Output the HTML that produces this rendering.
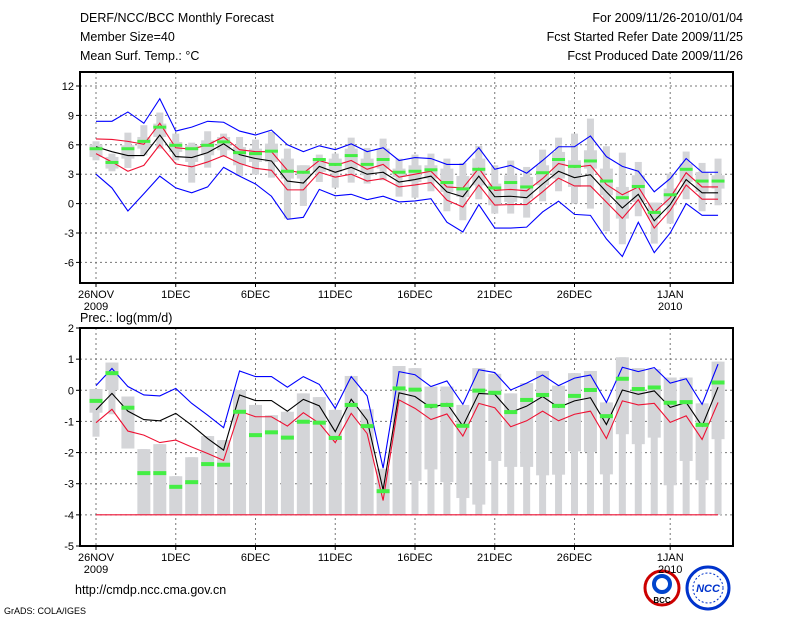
<!DOCTYPE html>
<html><head><meta charset="utf-8"><style>
body{margin:0;background:#fff;width:800px;height:618px;overflow:hidden;font-family:"Liberation Sans",sans-serif}
svg text{font-family:"Liberation Sans",sans-serif;fill:#000}
</style></head><body>
<svg id="c" width="800" height="618" xmlns="http://www.w3.org/2000/svg">
<g font-size="12.5">
<text x="80" y="22">DERF/NCC/BCC Monthly Forecast</text>
<text x="80" y="41">Member Size=40</text>
<text x="80" y="60">Mean Surf. Temp.: °C</text>
<text x="743" y="22" text-anchor="end">For 2009/11/26-2010/01/04</text>
<text x="743" y="41" text-anchor="end">Fcst Started Refer Date 2009/11/25</text>
<text x="743" y="60" text-anchor="end">Fcst Produced Date 2009/11/26</text>
</g>
<text x="80" y="322" font-size="12.5">Prec.: log(mm/d)</text>
<text x="75" y="594" font-size="12.5">http://cmdp.ncc.cma.gov.cn</text>
<text x="4" y="614" font-size="9">GrADS: COLA/IGES</text>
<g>
<circle cx="662" cy="588" r="17" fill="#fff" stroke="#c00" stroke-width="3"/>
<circle cx="662" cy="584" r="8" fill="none" stroke="#04c" stroke-width="4"/>
<text x="662" y="603" font-size="8" text-anchor="middle" font-weight="bold">BCC</text>
</g>
<g>
<circle cx="708" cy="588" r="21" fill="#fff" stroke="#03c" stroke-width="3"/>
<circle cx="708" cy="588" r="15" fill="none" stroke="#03c" stroke-width="1" stroke-dasharray="2 2"/>
<text x="708" y="592" font-size="11" text-anchor="middle" style="fill:#03c" font-style="italic" font-weight="bold">NCC</text>
</g>
</svg>
<script>
// ---- Temperature data (°C) ----
const tBlueHi=[8.4,8.4,9.35,8.2,10.7,7.4,7.8,8.4,8.3,7.4,7.0,7.5,6.0,5.3,5.9,5.5,6.1,5.3,5.7,4.4,4.7,4.6,4.0,4.0,5.7,3.5,3.9,3.1,4.4,5.8,5.8,6.9,4.8,3.8,3.3,1.2,2.55,4.6,3.2,3.2];
const tBlueLo=[3.0,1.6,-0.75,1.0,2.8,1.6,1.1,1.7,3.7,2.8,2.0,0.75,-1.6,-1.4,1.45,0.8,0.95,0.4,0.75,0.17,0.27,0.5,-1.9,-2.9,-0.1,-2.5,-2.5,-2.4,-0.85,0.25,-1.1,-1.2,-3.6,-5.4,-1.9,-5.0,-3.0,0,-1.2,-1.2];
const tMean=[5.8,5.3,4.9,4.9,7.0,4.8,4.7,5.2,6.1,5.0,4.6,4.35,2.3,2.1,3.8,3.2,3.7,3.0,3.2,2.2,2.45,2.8,1.2,0.7,2.8,0.7,0.75,0.6,2.0,3.3,2.65,2.95,1.2,-0.45,0.95,-1.75,-0.1,2.45,1.1,1.1];
const tRedHi=[6.6,6.55,6.35,6.05,8.2,5.7,5.55,6.0,6.8,5.5,5.3,5.3,3.4,3.1,4.4,3.9,4.4,3.5,4.0,2.7,3.0,3.3,1.7,1.6,3.6,1.35,1.45,1.3,2.55,4.1,3.7,3.9,1.95,0.9,1.7,-0.9,0.6,3.15,1.7,1.7];
const tRedLo=[5.1,4.25,3.3,3.9,6.0,4.05,3.75,4.25,4.9,4.1,3.6,3.4,1.4,1.4,3.2,2.7,3.0,2.3,2.55,1.7,1.9,2.15,0.35,-0.35,1.9,-0.15,-0.1,-0.1,1.2,2.6,1.8,1.8,0.15,-1.5,0.4,-2.5,-0.7,1.9,0.45,0.45];
const tObs=[5.6,4.2,5.6,6.35,7.8,5.95,5.6,5.95,6.3,5.2,5.1,5.35,3.3,3.2,4.5,4.0,4.9,4.0,4.5,3.2,3.3,3.45,2.15,1.5,3.5,1.6,2.15,1.7,3.15,4.5,3.8,4.35,2.3,0.6,1.75,-0.9,0.9,3.5,2.3,2.3];
const tMax=[6.36,5.1,7.24,8.0,9.29,7.14,6.22,7.38,7.14,6.8,6.53,7.31,5.61,3.91,5.0,5.1,6.73,5.68,6.63,4.59,5.0,5.1,4.59,4.15,5.88,3.91,4.39,3.74,5.51,6.73,7.14,8.67,5.85,5.2,4.25,0.1,3.06,5.31,4.15,4.59];
const tMin=[4.42,3.3,3.64,4.93,5.61,4.42,2.14,3.67,4.76,2.82,2.96,2.65,-1.53,-0.24,2.21,1.63,2.14,2.04,2.38,0.71,0.61,1.26,-0.78,-1.7,0.44,-1.02,-1.02,-1.43,0.24,1.26,0,-0.51,-2.82,-4.15,-1.29,-4.08,-2.04,0.44,-0.78,-0.17];
const tQ75=[6.02,4.76,5.95,6.8,8.16,6.29,5.95,6.46,6.8,5.78,5.61,6.12,4.59,3.91,4.59,4.59,5.61,4.59,5.61,3.57,3.91,3.91,3.57,2.82,4.59,2.04,2.89,2.72,3.91,5.27,4.42,5.44,3.57,1.7,2.89,0.1,1.53,4.08,3.23,2.89];
const tQ25=[4.76,3.57,4.59,5.61,6.8,5.27,4.25,4.93,5.44,3.91,4.25,4.25,2.55,2.55,3.23,3.23,3.57,2.89,3.57,2.72,2.21,2.55,1.19,0.68,1.87,-0.17,0.17,0.51,1.87,2.55,1.7,3.57,0.85,-1.53,0.17,-1.53,-0.17,2.21,1.19,1.53];
const tTicks=[12,9,6,3,0,-3,-6];
// ---- Precip data log(mm/d) ----
const pBlue=[0.15,0.7,0.12,-0.15,-0.18,0.06,-0.42,-0.8,-1.2,0.62,0.44,0.44,0.1,0.44,0.19,-0.58,0.44,-0.18,-2.5,0.6,0.5,0.12,0.3,-0.45,0.66,0.57,0.01,0.23,0.49,0.15,0.39,0.49,-0.39,0.74,0.6,0.73,0.23,0.37,-0.45,0.84];
const pMean=[-0.63,-0.1,-0.67,-0.94,-0.98,-0.74,-1.12,-1.55,-1.92,-0.15,-0.33,-0.33,-0.67,-0.29,-0.5,-1.33,-0.29,-0.96,-3.2,-0.08,-0.2,-0.56,-0.42,-1.15,-0.1,-0.13,-0.71,-0.51,-0.2,-0.55,-0.34,-0.24,-1.1,0.01,-0.13,-0.02,-0.55,-0.39,-1.15,0.1];
const pRed=[-1.04,-0.61,-1.31,-1.44,-1.68,-1.6,-1.82,-2.03,-2.25,-0.67,-0.85,-0.85,-1.15,-0.72,-1.06,-1.68,-0.74,-1.39,-3.54,-0.31,-0.58,-0.94,-0.76,-1.47,-0.42,-0.56,-1.17,-0.98,-0.67,-0.98,-0.77,-0.67,-1.55,-0.34,-0.47,-0.42,-1.03,-0.82,-1.58,-0.39];
const pObs=[-0.34,0.55,-0.56,-2.66,-2.66,-3.1,-2.95,-2.37,-2.39,-0.69,-1.44,-1.35,-1.52,-1.01,-1.04,-1.53,-0.47,-1.15,-3.24,0.06,0.02,-0.5,-0.47,-1.14,-0.01,-0.08,-0.7,-0.31,-0.15,-0.5,-0.18,0.01,-0.83,0.37,0.04,0.09,-0.4,-0.38,-1.11,0.25];
const pMax=[0.04,0.89,-0.2,-1.89,-1.73,-2.76,-2.15,-1.47,-1.6,0.01,-0.47,-0.8,-0.69,-0.1,-0.22,-0.63,0.46,-0.61,-2.52,0.78,0.71,0.12,0.12,-0.47,0.71,0.53,-0.1,0.23,0.62,0.15,0.55,0.62,-0.39,1.06,0.71,0.68,0.41,0.41,-0.42,0.92];
const pMin=[-1.49,-0.77,-1.87,-4,-4,-4,-4,-4,-4,-4,-4,-4,-4,-4,-4,-4,-4,-4,-4,-4,-4,-4,-4,-4,-4,-4,-4,-4,-4,-4,-4,-4,-4,-4,-4,-4,-4,-4,-4,-4];
const pQ25=[-0.72,0.01,-1.87,-4,-4,-4,-4,-4,-4,-4,-4,-4,-4,-4,-4,-4,-4,-4,-4,-4,-2.91,-2.54,-2.95,-3.46,-3.67,-2.27,-2.46,-2.46,-2.73,-2.71,-1.96,-1.98,-2.7,-1.41,-1.73,-1.52,-3.05,-2.27,-2.89,-1.57];
const pFloor=-4;
const pTicks=[2,1,0,-1,-2,-3,-4,-5];
const xTickDays=[0,5,10,15,20,25,30,36];
const xTickLabels=["26NOV","1DEC","6DEC","11DEC","16DEC","21DEC","26DEC","1JAN"];

const svg=document.getElementById('c');
const NS='http://www.w3.org/2000/svg';
const X=d=>96+d*15.95;
function el(tag,a,parent){const e=document.createElementNS(NS,tag);for(const k in a)e.setAttribute(k,a[k]);(parent||svg).appendChild(e);return e;}
function drawPanel(name,top,bot,vTop,vBot,ticks){
  const g=el('g',{});
  
  
  const Y=v=>top+(vTop-v)/(vTop-vBot)*(bot-top);
  ticks.forEach(t=>{const y=Y(t);
    if(y>top+1&&y<bot-1){const l=el('line',{x1:80,x2:733,y1:y,y2:y,stroke:'#777','stroke-dasharray':'2 3'},g);
    
    }
    el('line',{x1:76,x2:80,y1:y,y2:y,stroke:'#000'},g);
    const tx=el('text',{x:74,y:y+4,'text-anchor':'end','font-size':11},g);tx.textContent=t;
    
    
  });
  xTickDays.forEach((d,i)=>{const x=X(d);
    const l=el('line',{x1:x,x2:x,y1:top,y2:bot,stroke:'#777','stroke-dasharray':'2 3'},g);
    
    
    el('line',{x1:x,x2:x,y1:bot,y2:bot+4,stroke:'#000'},g);
    const tx=el('text',{x:x,y:bot+15,'text-anchor':'middle','font-size':11},g);tx.textContent=xTickLabels[i];
    
    
    if(i==0||i==7){const yr=el('text',{x:x,y:bot+27,'text-anchor':'middle','font-size':11},g);yr.textContent=i==0?'2009':'2010';
    
    }
  });
  return {g,Y};
}
function bars(p,hi,lo,q75,q25){
  hi.forEach((v,i)=>{const x=X(i);
    const n=el('rect',{x:x-3.5,y:p.Y(v),width:7,height:Math.max(1,p.Y(lo[i])-p.Y(v)),fill:'#d4d5d8'},p.g);
    
    
    const w=el('rect',{x:x-6.5,y:p.Y(q75[i]),width:13,height:Math.max(1,p.Y(q25[i])-p.Y(q75[i])),fill:'#d4d5d8'},p.g);
    
    
  });
}
function line(p,arr,color,name){
  const pl=el('polyline',{points:arr.map((v,i)=>X(i)+','+p.Y(v)).join(' '),fill:'none',stroke:color,'stroke-width':1.1},p.g);
  
  
}
function obs(p,arr,h){
  arr.forEach((v,i)=>{const r=el('rect',{x:X(i)-6.5,y:p.Y(v)-h/2,width:13,height:h,fill:'#44ee44'},p.g);
    
    });
}
const pt=drawPanel('temperature-panel',72,283,12+14/9.8,12-211/9.8+14/9.8,tTicks);
bars(pt,tMax,tMin,tQ75,tQ25);
line(pt,tBlueHi,'#0000ff','max-line');
line(pt,tBlueLo,'#0000ff','min-line');
line(pt,tRedHi,'#ee1133','upper-line');
line(pt,tRedLo,'#ee1133','lower-line');
line(pt,tMean,'#000','mean-line');
obs(pt,tObs,3);
const f1=el('rect',{x:80,y:72,width:653,height:211,fill:'none',stroke:'#000','stroke-width':2},pt.g);


const pb=drawPanel('precip-panel',328,546,2,-5,pTicks);
bars(pb,pMax,pMin,pMax,pQ25);
line(pb,pBlue,'#0000ff','precip-max-line');
line(pb,pMean,'#000','precip-mean-line');
line(pb,pRed,'#ee1133','precip-upper-line');
line(pb,pMin.map(()=>pFloor),'#ee1133','precip-floor-line');
obs(pb,pObs,4);
const f2=el('rect',{x:80,y:328,width:653,height:218,fill:'none',stroke:'#000','stroke-width':2},pb.g);


</script>
</body></html>
